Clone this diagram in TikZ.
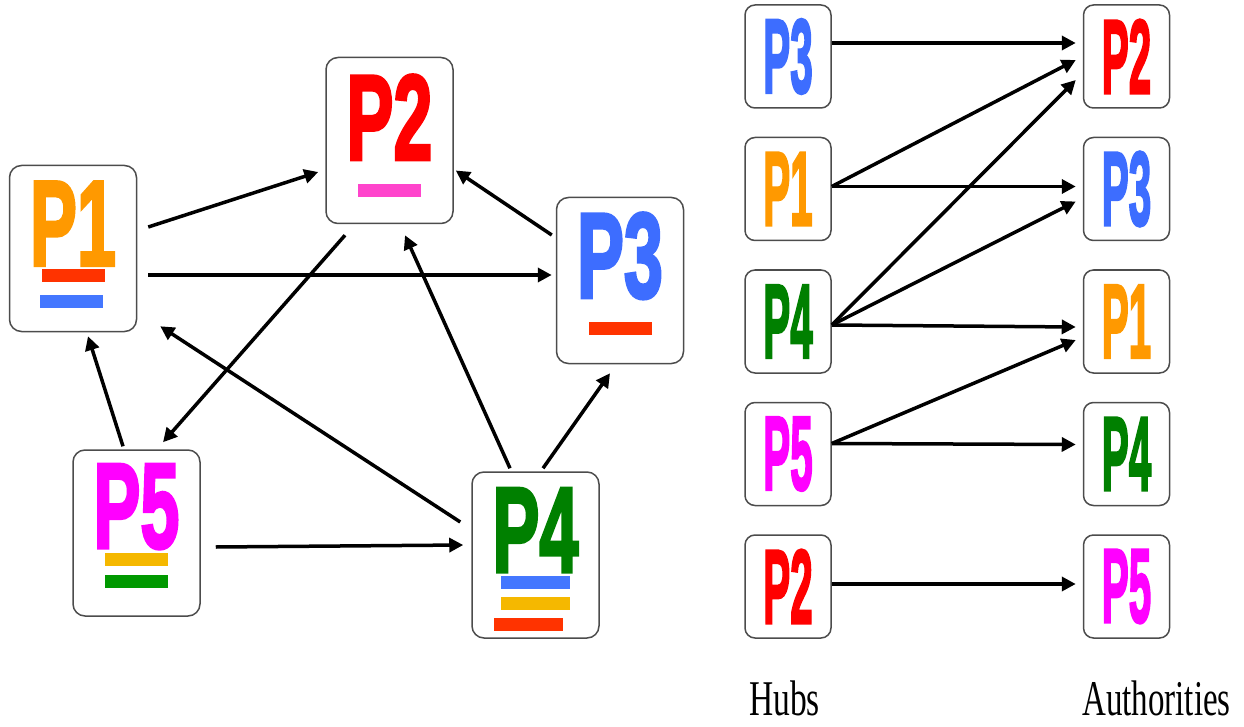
\documentclass[tikz,border=0pt]{standalone}
\usepackage{fontspec}
\setmainfont{Liberation Serif}
\newfontfamily\labelfont{Liberation Sans}[BoldFeatures={FakeBold=3}]
\usepackage{graphicx}
\usepackage{tikz}
\usetikzlibrary{positioning}
\usetikzlibrary{calc}
\usetikzlibrary{arrows.meta}

\definecolor{pOrange}{HTML}{FF9900}
\definecolor{pRed}{HTML}{FF0000}
\definecolor{pBlue}{HTML}{3D6DFF}
\definecolor{pGreen}{HTML}{008000}
\definecolor{pMagenta}{HTML}{FF00FF}
\definecolor{bRed}{HTML}{FF3300}
\definecolor{bBlue}{HTML}{4477FF}
\definecolor{bPink}{HTML}{FF44CC}
\definecolor{bYellow}{HTML}{F5B800}
\definecolor{bGreen}{HTML}{009900}

\tikzset{
    page/.style={draw=black!70, line width=1.5pt, rounded corners=12pt, minimum width=127pt, minimum height=166pt, inner sep=0pt},
    smallpage/.style={draw=black!70, line width=1.5pt, rounded corners=10pt, minimum width=86pt, minimum height=103pt, inner sep=0pt, font=\labelfont\bfseries\fontsize{105}{105}\selectfont},
    bigtag/.style={inner sep=0pt, font=\labelfont\bfseries\fontsize{121}{121}\selectfont},
    bar/.style={inner sep=0pt, minimum width=63pt, minimum height=13pt},
    link/.style={line width=3.5pt, -{Triangle[length=14pt,width=14pt]}},
    caption/.style={anchor=base, inner sep=0pt, font=\fontsize{50}{50}\selectfont},
}
\newcommand{\pagelabel}[1]{\scalebox{0.58}[1]{#1}}
\newcommand{\hublabel}[1]{\scalebox{0.385}[1]{#1}}

\begin{document}
\begin{tikzpicture}[x=1pt, y=-1pt]
            \useasboundingbox (0,0) rectangle (1244,727);

            % link graph
            \node[page] (p1) at (73,248.5)  {};
            \node[page] (p2) at (389.5,140.5) {};
            \node[page] (p3) at (620,280.5) {};
            \node[page] (p4) at (535.5,555) {};
            \node[page] (p5) at (136.5,533) {};

            \node[bigtag, text=pOrange, below=17pt of p1.north]  (t1) {\pagelabel{P1}};
            \node[bigtag, text=pRed, below=18pt of p2.north]     (t2) {\pagelabel{P2}};
            \node[bigtag, text=pBlue, below=16pt of p3.north]    (t3) {\pagelabel{P3}};
            \node[bigtag, text=pGreen, below=17pt of p4.north]   (t4) {\pagelabel{P4}};
            \node[bigtag, text=pMagenta, below=15pt of p5.north] (t5) {\pagelabel{P5}};

            \node[bar, fill=bRed, below=3pt of t1]                 (b1a) {};
            \node[bar, fill=bBlue, below=13pt of b1a, xshift=-2pt] (b1b) {};
            \node[bar, fill=bPink, below=24pt of t2]               (b2a) {};
            \node[bar, fill=bRed, below=23pt of t3]                (b3a) {};
            \node[bar, fill=bBlue, below=4pt of t4, minimum width=69pt]                  (b4a) {};
            \node[bar, fill=bYellow, below=7pt of b4a, minimum width=69pt]               (b4b) {};
            \node[bar, fill=bRed, below=8pt of b4b, minimum width=69pt, xshift=-7pt]     (b4c) {};
            \node[bar, fill=bYellow, below=4pt of t5]              (b5a) {};
            \node[bar, fill=bGreen, below=8pt of b5a]              (b5b) {};

            \draw[link] ($(p1.east)+(11,-21.5)$) -- ($(p2.west)+(-7,31.5)$);
            \draw[link] ($(p1.east)+(11,26.5)$)  -- ($(p3.west)+(-4,-5.5)$);
            \draw[link] ($(p3.west)+(-4,-45.5)$) -- ($(p2.east)+(2,30)$);
            \draw[link] ($(p2.south)+(-44.5,11)$) -- ($(p5.north)+(26.5,-7)$);
            \draw[link] ($(p5.north)+(-13.5,-3)$) -- ($(p1.south)+(15,4)$);
            \draw[link] ($(p4.west)+(-11,-33)$)  -- ($(p1.south east)+(23,-6)$);
            \draw[link] ($(p4.north)+(-25.5,-3)$) -- ($(p2.south)+(15.5,11)$);
            \draw[link] ($(p4.north)+(7.5,-3)$)  -- ($(p3.south)+(-10,9)$);
            \draw[link] ($(p5.east)+(15,14)$)    -- ($(p4.west)+(-8,-10)$);

            % hubs and authorities
            \node[smallpage, text=pBlue] (h3) at (788,56.5)         {\hublabel{P3}};
            \node[smallpage, text=pOrange, below=28pt of h3]  (h1) {\hublabel{P1}};
            \node[smallpage, text=pGreen, below=28pt of h1]   (h4) {\hublabel{P4}};
            \node[smallpage, text=pMagenta, below=28pt of h4] (h5) {\hublabel{P5}};
            \node[smallpage, text=pRed, below=28pt of h5]     (h2) {\hublabel{P2}};

            \node[smallpage, text=pRed, right=251pt of h3]    (a2) {\hublabel{P2}};
            \node[smallpage, text=pBlue, below=28pt of a2]    (a3) {\hublabel{P3}};
            \node[smallpage, text=pOrange, below=28pt of a3]  (a1) {\hublabel{P1}};
            \node[smallpage, text=pGreen, below=28pt of a1]   (a4) {\hublabel{P4}};
            \node[smallpage, text=pMagenta, below=28pt of a4] (a5) {\hublabel{P5}};

            \draw[link] ($(h3.east)+(0,-13.5)$) -- ($(a2.west)+(-7,-13.5)$);
            \draw[link] ($(h1.east)+(0,-2.5)$)  -- ($(a2.west)+(-7,3.5)$);
            \draw[link] ($(h1.east)+(0,-2.5)$)  -- ($(a3.west)+(-7,-2.5)$);
            \draw[link] ($(h4.east)+(0,3.5)$)   -- ($(a2.west)+(-7,23.5)$);
            \draw[link] ($(h4.east)+(0,3.5)$)   -- ($(a3.west)+(-7,12.5)$);
            \draw[link] ($(h4.east)+(0,3.5)$)   -- ($(a1.west)+(-7,5.5)$);
            \draw[link] ($(h5.east)+(0,-10.5)$) -- ($(a1.west)+(-7,18.5)$);
            \draw[link] ($(h5.east)+(0,-10.5)$) -- ($(a4.west)+(-7,-9.5)$);
            \draw[link] ($(h2.east)+(0,-2.5)$)  -- ($(a5.west)+(-7,-2.5)$);

            \node[caption] (hubs) at (784.5,715)  {\scalebox{0.67}[1]{Hubs}};
            \node[caption] (auth) at (1156.5,715) {\scalebox{0.66}[1]{Authorities}};
        \end{tikzpicture}
\end{document}
